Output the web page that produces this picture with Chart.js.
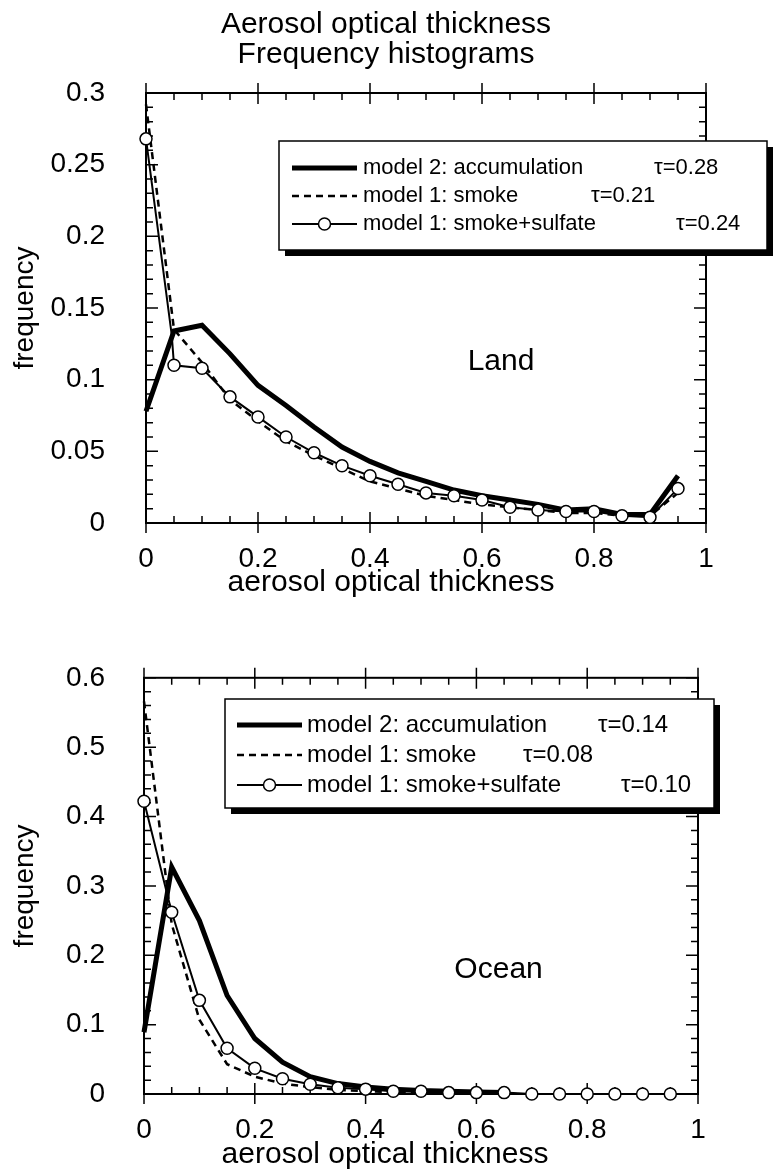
<!DOCTYPE html>
<html lang="en">
<head>
<meta charset="UTF-8">
<title>Aerosol optical thickness - Frequency histograms</title>
<script src="https://cdn.jsdelivr.net/npm/chart.js"></script>
<style>
    body { margin: 0; background: #fff; }
    #wrap { position: relative; width: 773px; height: 1171px; }
    canvas { position: absolute; left: 0; }
    #land { top: 0; }
    #ocean { top: 630px; }
</style>
</head>
<body>
<div id="wrap">
    <canvas id="land" width="773" height="630"></canvas>
    <canvas id="ocean" width="773" height="541"></canvas>
</div>
<script>
    // bin positions (aerosol optical thickness)
    const aot = [0, 0.05, 0.1, 0.15, 0.2, 0.25, 0.3, 0.35, 0.4, 0.45, 0.5, 0.55, 0.6, 0.65, 0.7, 0.75, 0.8, 0.85, 0.9, 0.95];
    const seriesNames = ['model 2: accumulation', 'model 1: smoke', 'model 1: smoke+sulfate'];

    // Land
    const landAccum = [0.078, 0.134, 0.138, 0.118, 0.096, 0.082, 0.067, 0.053, 0.043, 0.035, 0.029, 0.023, 0.019, 0.016, 0.013, 0.009, 0.010, 0.006, 0.006, 0.033];
    const landSmoke = [0.292, 0.135, 0.112, 0.086, 0.071, 0.057, 0.047, 0.038, 0.029, 0.024, 0.019, 0.016, 0.013, 0.011, 0.009, 0.007, 0.007, 0.005, 0.005, 0.021];
    // the smoke+sulfate line bends once just before the 0.05 marker
    const landSulfateX = [0, 0.046, 0.05, 0.1, 0.15, 0.2, 0.25, 0.3, 0.35, 0.4, 0.45, 0.5, 0.55, 0.6, 0.65, 0.7, 0.75, 0.8, 0.85, 0.9, 0.95];
    const landSulfate = [0.268, 0.131, 0.110, 0.108, 0.088, 0.074, 0.060, 0.049, 0.040, 0.033, 0.027, 0.021, 0.019, 0.016, 0.011, 0.009, 0.008, 0.008, 0.005, 0.004, 0.024];
    const landTau = ['τ=0.28', 'τ=0.21', 'τ=0.24'];

    // Ocean
    const oceanAccum = [0.089, 0.327, 0.250, 0.142, 0.080, 0.046, 0.025, 0.015, 0.010, 0.007, 0.005, 0.004, 0.003, 0.002];
    const oceanSmoke = [0.566, 0.245, 0.107, 0.043, 0.025, 0.015, 0.010, 0.006, 0.004, 0.003, 0.002, 0.001, 0.001];
    const oceanSulfate = [0.422, 0.262, 0.135, 0.066, 0.037, 0.022, 0.014, 0.009, 0.007, 0.004, 0.004, 0.002, 0.002, 0.002, 0, 0, 0, 0, 0, 0];
    const oceanTau = ['τ=0.14', 'τ=0.08', 'τ=0.10'];

    // tick labels
    const xTickLabels = ['0', '0.2', '0.4', '0.6', '0.8', '1'];
    const landYLabels = ['0', '0.05', '0.1', '0.15', '0.2', '0.25', '0.3'];
    const oceanYLabels = ['0', '0.1', '0.2', '0.3', '0.4', '0.5', '0.6'];

    const FONT = "'Liberation Sans', Arial, sans-serif";
    const MARK_R = 6;
    Chart.defaults.font.family = FONT;
    Chart.defaults.color = '#000';

    function pairs(xs, ys) {
        return ys.map((v, i) => ({ x: xs[i], y: v }));
    }

    function isMultiple(v, step) {
        const r = v / step;
        return Math.abs(r - Math.round(r)) < 1e-6;
    }

    // frame with inward ticks on all four sides
    const frameTicks = {
        id: 'frameTicks',
        beforeDatasetsDraw(chart, args, o) {
            const { ctx, chartArea: a, scales: { x, y } } = chart;
            ctx.save();
            ctx.strokeStyle = '#000';
            ctx.lineWidth = 1.5;
            ctx.beginPath();
            const nx = Math.round((x.max - x.min) / o.xMinor);
            for (let i = 0; i <= nx; i++) {
                const v = x.min + i * o.xMinor;
                const px = x.getPixelForValue(v);
                if (isMultiple(v, o.xMajor)) {
                    ctx.moveTo(px, a.bottom + 10); ctx.lineTo(px, a.bottom - 11);
                    ctx.moveTo(px, a.top - 10); ctx.lineTo(px, a.top + 11);
                } else {
                    ctx.moveTo(px, a.bottom); ctx.lineTo(px, a.bottom - 7);
                    ctx.moveTo(px, a.top); ctx.lineTo(px, a.top + 7);
                }
            }
            const ny = Math.round((y.max - y.min) / o.yMinor);
            for (let i = 0; i <= ny; i++) {
                const v = y.min + i * o.yMinor;
                const py = y.getPixelForValue(v);
                const len = isMultiple(v, o.yMajor) ? 12 : 7;
                ctx.moveTo(a.left, py); ctx.lineTo(a.left + len, py);
                ctx.moveTo(a.right, py); ctx.lineTo(a.right - len, py);
            }
            ctx.stroke();
            ctx.lineWidth = 2;
            ctx.strokeRect(a.left, a.top, a.right - a.left, a.bottom - a.top);
            ctx.restore();
        }
    };

    // boxed legend with drop shadow and tau column
    const boxLegend = {
        id: 'boxLegend',
        afterDraw(chart, args, o) {
            const { ctx } = chart;
            const [bx, by, bw, bh] = o.box;
            ctx.save();
            ctx.fillStyle = '#000';
            ctx.fillRect(bx + 6, by + 6, bw, bh);
            ctx.fillStyle = '#fff';
            ctx.fillRect(bx, by, bw, bh);
            ctx.strokeStyle = '#000';
            ctx.lineWidth = 1.5;
            ctx.strokeRect(bx, by, bw, bh);

            ctx.font = o.size + 'px ' + FONT;
            ctx.textBaseline = 'middle';
            ctx.textAlign = 'left';
            chart.data.datasets.forEach((ds, i) => {
                const ry = o.rows[i];
                ctx.strokeStyle = '#000';
                ctx.lineWidth = ds.borderWidth;
                ctx.setLineDash(ds.borderDash || []);
                ctx.beginPath();
                ctx.moveTo(o.sample[0], ry);
                ctx.lineTo(o.sample[1], ry);
                ctx.stroke();
                ctx.setLineDash([]);
                if (ds.marker) {
                    ctx.beginPath();
                    ctx.arc((o.sample[0] + o.sample[1]) / 2, ry, MARK_R, 0, Math.PI * 2);
                    ctx.fillStyle = '#fff';
                    ctx.fill();
                    ctx.lineWidth = 1.5;
                    ctx.stroke();
                }
                ctx.fillStyle = '#000';
                ctx.fillText(ds.label, o.text, ry);
                ctx.fillText(o.taus[i], o.tau[i], ry);
            });
            ctx.restore();
        }
    };

    // free text: headings, axis title, panel name
    const notes = {
        id: 'notes',
        afterDraw(chart, args, o) {
            const { ctx, scales: { x, y } } = chart;
            ctx.save();
            ctx.fillStyle = '#000';
            ctx.textAlign = 'center';
            ctx.textBaseline = 'middle';
            o.items.forEach(t => {
                ctx.font = t.size + 'px ' + FONT;
                const px = t.data ? x.getPixelForValue(t.x) : t.x;
                const py = t.data ? y.getPixelForValue(t.y) : t.y;
                ctx.fillText(t.text, px, py);
            });
            ctx.restore();
        }
    };

    function datasets(accumX, accum, smokeX, smoke, sulfX, sulf) {
        return [
            {
                label: seriesNames[0],
                data: pairs(accumX, accum),
                borderColor: '#000',
                borderWidth: 5,
                pointRadius: 0,
                order: 1
            },
            {
                label: seriesNames[1],
                data: pairs(smokeX, smoke),
                borderColor: '#000',
                borderWidth: 2.5,
                borderDash: [7, 5],
                pointRadius: 0,
                order: 2
            },
            {
                label: seriesNames[2],
                data: pairs(sulfX, sulf),
                borderColor: '#000',
                borderWidth: 2,
                marker: true,
                pointRadius: c => (aot.includes(c.raw.x) ? MARK_R : 0),
                pointBackgroundColor: '#fff',
                pointBorderColor: '#000',
                pointBorderWidth: 1.5,
                order: 0
            }
        ];
    }

    function makeChart(id, cfg) {
        const ctx = document.getElementById(id).getContext('2d');
        return new Chart(ctx, {
            type: 'line',
            data: { datasets: cfg.datasets },
            options: {
                responsive: false,
                animation: false,
                events: [],
                datasets: { line: { tension: 0, clip: false, fill: false } },
                layout: { padding: cfg.padding },
                scales: {
                    x: {
                        type: 'linear',
                        min: 0,
                        max: 1,
                        grid: { display: false },
                        border: { display: false },
                        ticks: {
                            stepSize: 0.2,
                            padding: 11,
                            maxRotation: 0,
                            autoSkip: false,
                            font: { size: 28 },
                            callback: (v, i) => xTickLabels[i]
                        },
                        afterFit: s => { s.height = 60; }
                    },
                    y: {
                        min: 0,
                        max: cfg.yMax,
                        grid: { display: false },
                        border: { display: false },
                        ticks: {
                            stepSize: cfg.yStep,
                            padding: cfg.yPad,
                            autoSkip: false,
                            font: { size: 28 },
                            callback: (v, i) => cfg.yLabels[i]
                        },
                        title: {
                            display: true,
                            text: 'frequency',
                            font: { size: 28 },
                            padding: { top: 8, bottom: 0 }
                        },
                        afterFit: s => { s.width = cfg.yWidth; }
                    }
                },
                plugins: {
                    legend: { display: false },
                    tooltip: { enabled: false },
                    frameTicks: cfg.ticks,
                    boxLegend: cfg.legend,
                    notes: { items: cfg.notes }
                }
            },
            plugins: [frameTicks, boxLegend, notes]
        });
    }

    makeChart('land', {
        datasets: datasets(aot, landAccum, aot, landSmoke, landSulfateX, landSulfate),
        padding: { top: 93, right: 67, bottom: 47, left: 0 },
        yMax: 0.3,
        yStep: 0.05,
        yPad: 33,
        yWidth: 146,
        yLabels: landYLabels,
        ticks: { xMinor: 0.05, xMajor: 0.2, yMinor: 0.01, yMajor: 0.05 },
        legend: {
            box: [279, 141, 488, 109],
            rows: [168, 196, 224],
            sample: [292, 357],
            text: 363,
            tau: [654, 591, 676],
            taus: landTau,
            size: 22
        },
        notes: [
            { text: 'Aerosol optical thickness', x: 386, y: 25, size: 30 },
            { text: 'Frequency histograms', x: 386, y: 55, size: 30 },
            { text: 'aerosol optical thickness', x: 391, y: 583, size: 30 },
            { text: 'Land', x: 0.634, y: 0.1125, size: 30, data: true }
        ]
    });

    makeChart('ocean', {
        datasets: datasets(aot, oceanAccum, aot, oceanSmoke, aot, oceanSulfate),
        padding: { top: 38, right: 75, bottom: 17, left: 0 },
        yMax: 0.6,
        yStep: 0.1,
        yPad: 31,
        yWidth: 144,
        yLabels: oceanYLabels,
        ticks: { xMinor: 0.05, xMajor: 0.2, yMinor: 0.02, yMajor: 0.1 },
        legend: {
            box: [225, 69, 489, 109],
            rows: [95, 125, 155],
            sample: [237, 302],
            text: 307,
            tau: [598, 523, 621],
            taus: oceanTau,
            size: 24
        },
        notes: [
            { text: 'aerosol optical thickness', x: 385, y: 525, size: 30 },
            { text: 'Ocean', x: 0.640, y: 0.179, size: 30, data: true }
        ]
    });
</script>
</body>
</html>
